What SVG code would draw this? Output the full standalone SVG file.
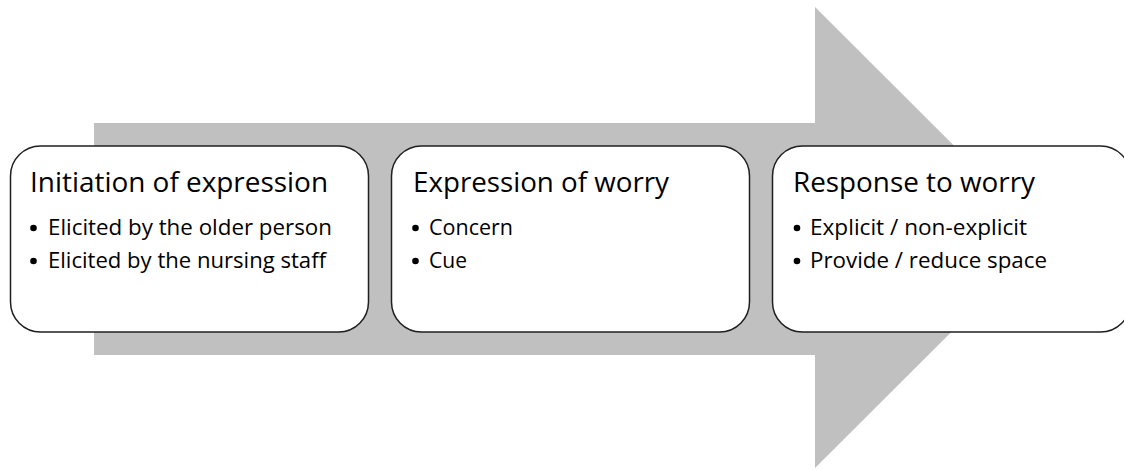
<svg xmlns="http://www.w3.org/2000/svg" width="1124" height="470" viewBox="0 0 1124 470">
<style>
.box{fill:#ffffff;stroke:#1f1f1f;stroke-width:1.5}
.title{font-family:"Open Sans","Liberation Sans",sans-serif;font-size:28px;fill:#000}
.item{font-family:"Open Sans","Liberation Sans",sans-serif;font-size:21px;fill:#000}
.dot{fill:#000}
</style>
<rect width="1124" height="470" fill="#ffffff"/>
<g id="connectors">
<polygon id="arrow" points="94,123 815,123 815,7 1046,237.5 815,468 815,355 94,355" fill="#c0c0c0"/>
</g>
<g id="node-initiation">
<rect class="box" x="10.5" y="146" width="358" height="186" rx="30" ry="30"/>
<text class="title" x="30" y="192" textLength="298" lengthAdjust="spacingAndGlyphs">Initiation of expression</text>
<circle class="dot" cx="33.5" cy="228" r="3.3"/>
<text class="item" x="48" y="235" textLength="284" lengthAdjust="spacingAndGlyphs">Elicited by the older person</text>
<circle class="dot" cx="33.5" cy="261" r="3.3"/>
<text class="item" x="48" y="268" textLength="278" lengthAdjust="spacingAndGlyphs">Elicited by the nursing staff</text>
</g>
<g id="node-expression">
<rect class="box" x="391.5" y="146" width="358" height="186" rx="30" ry="30"/>
<text class="title" x="413" y="192" textLength="256" lengthAdjust="spacingAndGlyphs">Expression of worry</text>
<circle class="dot" cx="415.5" cy="228" r="3.3"/>
<text class="item" x="429" y="235" textLength="84" lengthAdjust="spacingAndGlyphs">Concern</text>
<circle class="dot" cx="415.5" cy="261" r="3.3"/>
<text class="item" x="429" y="268" textLength="38" lengthAdjust="spacingAndGlyphs">Cue</text>
</g>
<g id="node-response">
<rect class="box" x="772.5" y="146" width="358" height="186" rx="30" ry="30"/>
<text class="title" x="793" y="192" textLength="242" lengthAdjust="spacingAndGlyphs">Response to worry</text>
<circle class="dot" cx="797" cy="228" r="3.3"/>
<text class="item" x="810" y="235" textLength="217" lengthAdjust="spacingAndGlyphs">Explicit / non-explicit</text>
<circle class="dot" cx="797" cy="261" r="3.3"/>
<text class="item" x="810" y="268" textLength="237" lengthAdjust="spacingAndGlyphs">Provide / reduce space</text>
</g>
</svg>
